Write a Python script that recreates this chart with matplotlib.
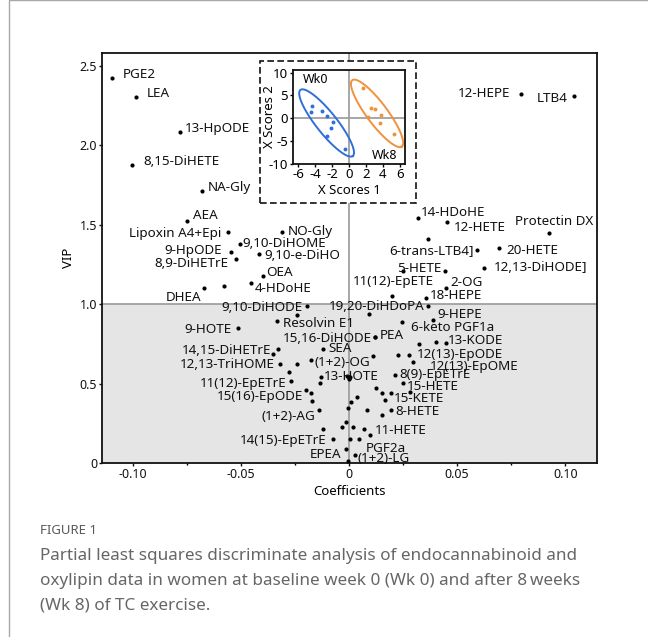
import matplotlib
matplotlib.use("Agg")
import matplotlib.pyplot as plt
import numpy as np
from matplotlib.patches import Rectangle

plt.rcParams['font.family'] = ['Noto Sans', 'DejaVu Sans']
plt.rcParams['axes.unicode_minus'] = False

# ---------------- data ----------------
labeled_names = ["PGE2", "LEA", "13-HpODE", "8,15-DiHETE", "NA-Gly", "AEA", "Lipoxin A4+Epi",
                 "NO-Gly", "9,10-DiHOME", "9-HpODE", "9,10-e-DiHO", "8,9-DiHETrE", "OEA", "4-HDoHE",
                 "DHEA", "9,10-DiHODE", "Resolvin E1", "9-HOTE", "15,16-DiHODE", "PEA", "SEA",
                 "14,15-DiHETrE", "12,13-TriHOME", "(1+2)-OG", "11(12)-EpETrE", "13-HOTE",
                 "15(16)-EpODE", "(1+2)-AG", "14(15)-EpETrE", "EPEA", "PGF2a", "(1+2)-LG",
                 "11-HETE", "8-HETE", "15-KETE", "15-HETE", "8(9)-EpETrE", "12(13)-EpOME",
                 "12(13)-EpODE", "13-KODE", "6-keto PGF1a", "9-HEPE", "19,20-DiHDoPA", "18-HEPE",
                 "11(12)-EpETE", "2-OG", "5-HETE", "12,13-DiHODE]", "20-HETE", "6-trans-LTB4]",
                 "Protectin DX", "12-HETE", "14-HDoHE", "12-HEPE", "LTB4"]
labeled_coef = [-0.1098, -0.0987, -0.0782, -0.1002, -0.0679, -0.0751, -0.0558,
                -0.0309, -0.0503, -0.0547, -0.0416, -0.0524, -0.0396, -0.0455,
                -0.0669, -0.0193, -0.0334, -0.0515, 0.0120, 0.0120, -0.0119,
                -0.0350, -0.0319, -0.0176, -0.0268, -0.0130,
                -0.0199, -0.0137, -0.0073, -0.0015, 0.0046, 0.0028,
                0.0097, 0.0193, 0.0193, 0.0251, 0.0213, 0.0297,
                0.0279, 0.0447, 0.0244, 0.0390, 0.0367, 0.0356,
                0.0197, 0.0449, 0.0444, 0.0624, 0.0694, 0.0591,
                0.0926, 0.0455, 0.0318, 0.0796, 0.1042]
labeled_vip = [2.425, 2.305, 2.081, 1.875, 1.714, 1.523, 1.456,
               1.456, 1.376, 1.330, 1.315, 1.284, 1.177, 1.131,
               1.099, 0.988, 0.896, 0.851, 0.795, 0.795, 0.717,
               0.684, 0.621, 0.648, 0.518, 0.543,
               0.459, 0.334, 0.151, 0.088, 0.151, 0.050,
               0.176, 0.334, 0.442, 0.502, 0.554, 0.638,
               0.680, 0.757, 0.889, 0.900, 0.990, 1.036,
               1.051, 1.103, 1.208, 1.229, 1.355, 1.340,
               1.449, 1.515, 1.540, 2.322, 2.312]

other_coef = [-0.0577, -0.0242, -0.0330, -0.0242, -0.0276, -0.0134, -0.0177, -0.0170,
              -0.0007, 0.0002, -0.0002, 0.0005, 0.0110, 0.0094, 0.0125, 0.0151, 0.0168,
              0.0036, 0.0009, -0.0003, 0.0085, 0.0151, -0.0015, -0.0031, 0.0020, 0.0071,
              -0.0119, 0.0005, -0.0003, 0.0228, 0.0324, 0.0401, 0.0282, 0.0367, 0.0251]
other_vip = [1.114, 0.931, 0.716, 0.621, 0.575, 0.502, 0.442, 0.390,
             0.548, 0.538, 0.529, 0.544, 0.675, 0.936, 0.470, 0.439, 0.396,
             0.417, 0.386, 0.348, 0.334, 0.302, 0.260, 0.225, 0.225, 0.216,
             0.214, 0.151, 0.013, 0.680, 0.749, 0.763, 0.449, 1.408, 1.210]

# inset: PLS-DA score plot
wk0_x = [-4.34, -4.50, -3.20, -2.64, -1.85, -2.13, -2.60, -0.51]
wk0_y = [2.64, 1.43, 1.50, 0.36, -0.93, -2.07, -3.86, -6.86]
wk8_x = [1.66, 2.56, 3.08, 2.29, 3.79, 3.71, 5.25]
wk8_y = [6.57, 2.29, 2.00, 0.21, 0.79, -1.07, -3.50]
# ellipse: centre, semi-major vector, semi-minor vector
wk0_ellipse = [(-2.64, -1.07), (3.08, -7.29), (0.98, 1.36)]
wk8_ellipse = [(3.31, 1.04), (2.92, -7.32), (0.98, 1.36)]

x_ticks = [-0.10, -0.05, 0, 0.05, 0.10]
x_ticklabels = ["-0.10", "-0.05", "0", "0.05", "0.10"]
y_ticks = [0, 0.5, 1.0, 1.5, 2.0, 2.5]
y_ticklabels = ["0", "0.5", "1.0", "1.5", "2.0", "2.5"]

# label layout: (dx px, dy px downward, ha)
label_layout = {
    "PGE2": (11.6, -5, "left"), "LEA": (11, -4.4, "left"), "13-HpODE": (5, -5.6, "left"),
    "8,15-DiHETE": (11, -5, "left"), "NA-Gly": (6, -4.7, "left"), "AEA": (6, -6.7, "left"),
    "Lipoxin A4+Epi": (-6.6, 0, "right"), "NO-Gly": (5.4, -1.7, "left"),
    "9,10-DiHOME": (2.4, -2.6, "left"), "9-HpODE": (-9, -3, "right"),
    "9,10-e-DiHO": (5, 0, "left"), "8,9-DiHETrE": (-7.4, 2.7, "right"),
    "OEA": (2.7, -5, "left"), "4-HDoHE": (4.3, 4, "left"), "DHEA": (-2.6, 7.4, "right"),
    "9,10-DiHODE": (-4.6, 0, "right"), "Resolvin E1": (6, 1, "left"),
    "9-HOTE": (-6, 0.6, "right"), "15,16-DiHODE": (-3.3, 0, "right"), "PEA": (5, -2.7, "left"),
    "SEA": (5, -2, "left"), "14,15-DiHETrE": (-2, -5, "right"),
    "12,13-TriHOME": (-5, -1, "right"), "(1+2)-OG": (4, 0.7, "left"),
    "11(12)-EpETrE": (-4.3, 1, "right"), "13-HOTE": (3, -1.7, "left"),
    "15(16)-EpODE": (-3, 5, "right"), "(1+2)-AG": (-4, 5, "right"),
    "14(15)-EpETrE": (-6.6, 0.3, "right"), "EPEA": (-4, 4.3, "right"),
    "PGF2a": (7, 7.7, "left"), "(1+2)-LG": (2.3, 2.3, "left"), "11-HETE": (5, -5.7, "left"),
    "8-HETE": (5, 0, "left"), "15-KETE": (3, 4, "left"), "15-HETE": (3.4, 1.7, "left"),
    "8(9)-EpETrE": (4.3, -1.7, "left"), "12(13)-EpOME": (17, 3.3, "left"),
    "12(13)-EpODE": (7.4, -2.3, "left"), "13-KODE": (2.6, -3.7, "left"),
    "6-keto PGF1a": (9, 4, "left"), "9-HEPE": (4, -6.7, "left"),
    "19,20-DiHDoPA": (-3.3, -0.7, "right"), "18-HEPE": (4, -4.3, "left"),
    "11(12)-EpETE": (2.3, -16, "center"), "2-OG": (4, -7, "left"),
    "5-HETE": (-3.3, -4.3, "right"), "12,13-DiHODE]": (10, -1.7, "left"),
    "20-HETE": (7, 1.3, "left"), "6-trans-LTB4]": (-3.3, -0.7, "right"),
    "Protectin DX": (4.5, -12.7, "center"), "12-HETE": (6, 3.7, "left"),
    "14-HDoHE": (3.3, -7.6, "left"), "12-HEPE": (-10.3, -1.7, "right"),
    "LTB4": (-6.6, 1, "right"),
}

W, H = 648, 637
fig = plt.figure(figsize=(W / 100, H / 100), dpi=100)

def fx(px):
    return px / W

def fy(py):
    return 1 - py / H

# outer frame
fig.patches.append(Rectangle((fx(9), fy(700)), fx(700), 700 / H, transform=fig.transFigure,
                             fill=False, edgecolor="#a8a8a8", linewidth=1.0, zorder=0))

ax = fig.add_axes([fx(102), fy(463), fx(597) - fx(102), fy(53) - fy(463)])
ax.set_xlim(-0.1142, 0.1147)
ax.set_ylim(0, 2.58)
ax.axhspan(0, 1.0, color="#e5e5e5", zorder=0, lw=0)
ax.axhline(1.0, color="#a0a0a0", lw=1.3, zorder=1)
ax.axvline(0, color="#a0a0a0", lw=1.3, zorder=1)

ax.scatter(labeled_coef, labeled_vip, s=9, color="black", zorder=3, linewidths=0)
ax.scatter(other_coef, other_vip, s=9, color="black", zorder=3, linewidths=0)

for name, cx, cy in zip(labeled_names, labeled_coef, labeled_vip):
    dx, dy, ha = label_layout[name]
    ax.annotate(name, (cx, cy), xytext=(dx, -dy), textcoords="offset pixels",
                ha=ha, va="center_baseline", fontsize=9.7, color="#111111", zorder=4)

ax.set_xticks(x_ticks)
ax.set_xticklabels(x_ticklabels)
ax.set_yticks(y_ticks)
ax.set_yticklabels(y_ticklabels)
ax.set_xticks([-0.075, -0.025, 0.025, 0.075], minor=True)
ax.tick_params(axis="both", which="major", length=2, width=1, labelsize=9, pad=1.5, colors="#111111")
ax.tick_params(axis="x", which="minor", length=1.5, width=1)
for s in ax.spines.values():
    s.set_linewidth(1.3)
    s.set_color("#111111")
ax.set_xlabel("Coefficients", fontsize=9.5)
ax.xaxis.set_label_coords(0.5, -(485 - 463) / 410)
ax.set_ylabel("VIP", fontsize=9.5)
ax.yaxis.set_label_coords(-(102 - 75) / 495, 0.5)

# inset dashed frame
fig.patches.append(Rectangle((fx(260), fy(203)), fx(416) - fx(260), fy(61) - fy(203),
                             transform=fig.transFigure, facecolor="white", edgecolor="#111111",
                             linestyle=(0, (4, 2)), linewidth=1.2, zorder=1))

ins = fig.add_axes([fx(293), fy(163.5), fx(405) - fx(293), fy(70) - fy(163.5)], zorder=2)
ins.set_xlim(-6.6, 6.6)
ins.set_ylim(-10, 10.6)
ins.axhline(0, color="#a0a0a0", lw=1.3, zorder=1)
ins.axvline(0, color="#a0a0a0", lw=1.3, zorder=1)
blue = "#2f6fd8"
orange = "#f0923c"
t = np.linspace(0, 2 * np.pi, 300)
for (c, a, b), col in ((wk0_ellipse, blue), (wk8_ellipse, orange)):
    ex = c[0] + a[0] * np.cos(t) + b[0] * np.sin(t)
    ey = c[1] + a[1] * np.cos(t) + b[1] * np.sin(t)
    ins.plot(ex, ey, color=col, lw=1.4, zorder=2)
ins.scatter(wk0_x, wk0_y, s=8, color=blue, zorder=3, linewidths=0)
ins.scatter(wk8_x, wk8_y, s=8, color=orange, zorder=3, linewidths=0)
ins.text(0.09, 0.90, "Wk0", transform=ins.transAxes, fontsize=9, ha="left", va="center")
ins.text(0.93, 0.02, "Wk8", transform=ins.transAxes, fontsize=9, ha="right", va="bottom")
ins.set_xticks([-6, -4, -2, 0, 2, 4, 6])
ins.set_yticks([-10, -5, 0, 5, 10])
ins.tick_params(axis="both", length=2.5, width=1, labelsize=9.5, pad=1)
for s in ins.spines.values():
    s.set_linewidth(1.3)
    s.set_color("#111111")
ins.set_xlabel("X Scores 1", fontsize=9.5)
ins.xaxis.set_label_coords(0.5, -(184 - 163.5) / 93.5)
ins.set_ylabel("X Scores 2", fontsize=9.5)
ins.yaxis.set_label_coords(-(293 - 276) / 112, 0.5)

# caption
fig.text(fx(40), fy(531), "FIGURE 1", fontsize=9.5, color="#5a5a5a", ha="left", va="center",
         fontweight="medium")
caption = ["Partial least squares discriminate analysis of endocannabinoid and",
           "oxylipin data in women at baseline week 0 (Wk 0) and after 8\u2009weeks",
           "(Wk 8) of TC exercise."]
for i, line in enumerate(caption):
    fig.text(fx(40), fy(556 + 25 * i), line, fontsize=12.3, color="#666666",
             ha="left", va="center", fontweight="light")

fig.savefig("out.png", dpi=100)
